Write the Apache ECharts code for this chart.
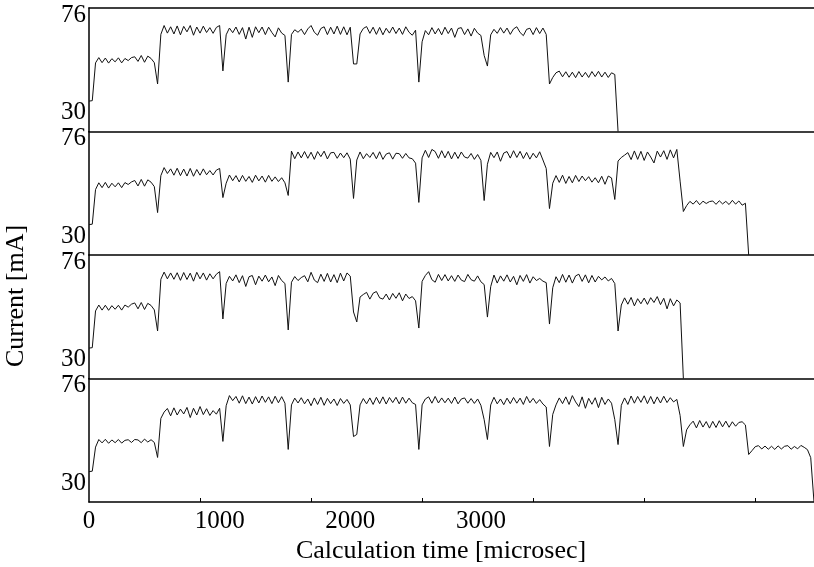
<!DOCTYPE html>
<html><head><meta charset="utf-8">
<script src="https://cdn.jsdelivr.net/npm/echarts@6/dist/echarts.min.js"></script>
<style>html,body{margin:0;padding:0;background:#fff}#c{width:814px;height:567px}</style>
</head><body><div id="c"></div><script>
// sampling period of the current traces, microseconds
const sampleInterval = 25;

const panel1Current = [35.4, 35.6, 53.5,
 56.0, 53.6, 55.8, 53.4, 55.5, 54.0, 55.9, 53.5, 55.6, 54.6, 56.0, 56.4, 54.2, 57.0, 53.8, 56.7, 55.6, 53.6,
 43.5,
 67.0, 71.2, 67.6, 70.6, 67.2, 71.0, 66.8, 70.8, 68.2, 71.2, 66.6, 70.5, 67.6, 70.9, 67.9, 70.2, 67.5, 70.3, 71.2,
 49.7,
 66.8, 70.0, 67.8, 70.5, 67.0, 70.2, 64.8, 70.4, 65.6, 70.6, 67.8, 70.5, 66.9, 70.4, 67.9, 65.8, 70.1, 67.6, 66.5,
 44.4,
 67.0, 69.2, 68.0, 69.5, 66.9, 69.6, 71.2, 68.0, 66.6, 69.8, 70.6, 66.9, 70.4, 67.2, 70.9, 67.0, 70.6, 66.8, 70.4,
 53.0, 53.0,
 67.2, 69.8, 70.7, 67.5, 70.4, 67.0, 70.3, 66.8, 69.9, 67.6, 70.5, 67.4, 70.0, 67.0, 70.6, 68.0, 66.6, 69.0,
 44.4,
 63.5, 68.8, 66.8, 70.2, 67.2, 69.8, 66.8, 70.4, 67.4, 70.0, 65.6, 69.8, 70.2, 66.9, 69.6, 66.2, 69.9, 67.6, 66.5,
 57.0, 52.0,
 66.8, 69.4, 67.5, 70.2, 67.6, 70.0, 67.0, 69.6, 70.6, 67.9, 66.4, 69.4, 69.9, 66.9, 70.2, 67.4, 70.0, 67.0,
 43.5,
 46.6, 48.8, 49.6, 46.9, 49.3, 46.7, 49.1, 46.5, 49.4, 46.8, 49.0, 46.6, 49.4, 47.0, 49.5, 46.8, 49.1, 46.6, 48.8,
 48.0, 21];

const panel2Current = [35.4, 35.6, 52.0,
 55.2, 52.9, 55.4, 52.7, 55.0, 53.3, 55.2, 52.9, 55.3, 54.4, 55.6, 56.3, 53.7, 56.8, 53.6, 56.6, 55.5, 53.4,
 41.1,
 58.6, 62.4, 59.6, 61.8, 58.8, 62.1, 58.6, 61.7, 58.4, 62.0, 58.3, 61.5, 58.8, 61.8, 59.0, 61.0, 58.9, 61.2, 62.0,
 48.2,
 55.0, 58.9, 56.2, 58.6, 55.6, 58.7, 55.9, 58.2, 55.4, 58.8, 56.1, 58.4, 55.5, 58.7, 55.9, 58.0, 55.8, 57.6, 55.2,
 49.2,
 70.2, 66.6, 69.8, 67.0, 70.0, 66.8, 69.7, 66.3, 70.0, 67.6, 70.2, 66.5, 69.4, 69.6, 66.8, 69.3, 67.1, 69.4, 66.4,
 47.8,
 66.0, 69.8, 66.6, 69.0, 67.2, 69.6, 66.6, 69.9, 66.3, 68.8, 69.4, 66.4, 69.2, 69.0, 66.8, 69.1, 67.0, 66.6, 64.5,
 45.9,
 67.0, 70.6, 67.2, 71.0, 70.0, 66.8, 70.4, 67.0, 70.1, 66.5, 69.7, 66.7, 69.8, 67.4, 66.9, 69.1, 66.3, 68.6, 65.8,
 46.8,
 64.0, 69.6, 67.1, 69.8, 65.4, 69.3, 70.0, 66.9, 70.4, 67.2, 70.1, 66.7, 69.6, 66.4, 69.2, 67.0, 69.9, 66.0, 62.0,
 43.0,
 55.0, 58.6, 55.4, 58.8, 54.9, 58.2, 55.2, 58.7, 55.8, 58.4, 56.2, 58.1, 55.5, 57.6, 55.2, 58.3, 54.5, 58.4, 57.5,
 47.3,
 65.5, 67.2, 68.3, 69.5, 66.2, 70.3, 66.3, 70.1, 65.8, 69.8, 67.4, 64.6, 70.2, 67.4, 70.4, 66.3, 70.8, 67.0, 71.0,
 56.0, 41.6,
 44.4, 46.4, 45.1, 46.8, 44.8, 46.5, 45.4, 46.3, 46.6, 45.0, 46.7, 45.2, 46.4, 44.9, 46.9, 45.1, 46.6, 44.6, 45.5,
 21];

const panel3Current = [35.4, 35.6, 53.0,
 55.8, 53.4, 55.7, 53.3, 55.5, 53.8, 55.7, 53.4, 55.8, 54.8, 56.2, 56.8, 54.0, 57.0, 53.7, 56.6, 55.6, 53.5,
 43.5,
 68.0, 71.4, 68.2, 71.0, 68.0, 71.1, 67.5, 71.2, 67.9, 70.9, 67.1, 71.3, 68.2, 71.0, 67.6, 70.6, 68.2, 70.4, 71.6,
 49.2,
 66.0, 69.4, 67.2, 70.1, 66.4, 69.7, 64.6, 69.2, 69.8, 65.4, 69.5, 67.1, 70.0, 66.8, 69.1, 65.0, 69.8, 67.4, 66.0,
 44.0,
 66.6, 69.3, 67.4, 68.8, 69.7, 66.8, 71.3, 67.6, 66.4, 70.4, 67.0, 70.8, 66.7, 70.2, 66.4, 70.9, 67.2, 71.0, 69.5,
 52.5, 47.8,
 59.6, 60.8, 61.8, 58.6, 61.4, 62.2, 59.2, 58.6, 61.0, 58.2, 61.3, 59.0, 61.6, 57.8, 61.0, 58.9, 59.8, 57.8,
 44.9,
 67.0, 69.8, 71.6, 67.8, 66.6, 70.3, 67.4, 70.2, 67.2, 69.7, 67.0, 70.0, 67.6, 66.9, 70.3, 67.8, 67.1, 69.6, 66.8,
 65.5, 50.1,
 64.5, 70.0, 66.2, 69.6, 67.1, 70.1, 66.7, 69.4, 65.4, 69.8, 67.0, 70.2, 66.2, 69.2, 67.4, 68.4, 67.1, 66.4,
 46.8,
 64.0, 69.2, 66.4, 70.3, 66.6, 70.0, 66.2, 69.6, 70.4, 67.0, 70.1, 66.3, 69.8, 66.7, 69.4, 67.7, 69.1, 67.2, 68.4,
 66.0, 43.5,
 55.8, 59.2, 56.2, 59.4, 55.4, 58.8, 56.4, 59.1, 56.1, 59.3, 57.0, 59.8, 56.0, 59.0, 54.0, 58.8, 55.4, 58.2,
 56.8, 21];

const panel4Current = [35.4, 35.6, 47.0,
 50.6, 49.0, 50.7, 48.8, 50.4, 49.1, 50.6, 48.9, 50.2, 50.5, 49.2, 50.6, 50.4, 49.1, 50.8, 49.4, 50.5, 49.2,
 42.1,
 60.6, 63.6, 65.3, 61.8, 65.6, 62.2, 65.0, 62.7, 65.8, 61.0, 65.4, 62.2, 66.2, 62.4, 65.2, 62.0, 64.3, 62.6, 65.4,
 49.7,
 66.6, 71.4, 69.0, 71.0, 67.8, 71.3, 67.6, 70.7, 67.4, 70.9, 67.9, 71.2, 68.2, 70.8, 67.6, 71.1, 68.0, 70.9, 67.8,
 45.9,
 67.0, 70.2, 67.9, 70.4, 67.5, 69.8, 66.6, 70.3, 67.2, 70.6, 66.8, 70.1, 67.6, 69.8, 66.7, 70.0, 67.7, 69.6, 67.0,
 52.0, 53.0,
 67.0, 70.0, 67.5, 70.3, 67.2, 70.6, 67.6, 70.8, 67.4, 70.5, 68.1, 70.6, 67.5, 70.7, 67.8, 70.2, 68.0, 67.2,
 45.9,
 67.0, 69.8, 70.8, 67.8, 71.0, 67.9, 70.3, 68.0, 70.2, 67.7, 70.7, 67.5, 69.8, 70.3, 67.8, 70.0, 67.7, 69.8, 66.8,
 60.0, 50.6,
 67.0, 70.6, 67.5, 69.8, 67.1, 70.2, 67.6, 70.5, 67.8, 70.2, 67.2, 71.0, 68.0, 70.1, 67.7, 69.5, 67.4, 66.0,
 47.3,
 62.5, 67.0, 70.3, 67.6, 70.8, 67.2, 71.4, 68.4, 66.2, 70.8, 65.4, 70.1, 67.3, 70.4, 65.7, 70.6, 67.2, 69.8, 67.8,
 60.0, 48.2,
 66.8, 70.3, 67.2, 71.2, 67.8, 71.0, 68.2, 71.3, 67.6, 71.0, 67.5, 70.8, 67.9, 71.1, 68.1, 70.4, 68.4, 69.6,
 62.0, 47.3,
 55.2, 57.6, 59.3, 56.1, 59.6, 56.5, 59.1, 56.0, 59.2, 56.3, 59.5, 56.6, 59.3, 56.4, 59.0, 56.9, 58.7, 59.0, 57.5,
 43.5,
 45.3, 47.2, 47.7, 46.1, 47.5, 46.0, 47.4, 45.9, 47.6, 46.1, 47.4, 47.7, 46.0, 47.3, 46.2, 47.8, 46.9, 45.8,
 42.0, 21];

const xTickLabels = [0, 1000, 2000, 3000];
const xTickMarks = [850, 1700, 2550, 3400, 4250, 5100];
const yTickLabels = [30, 76];
const xMin = 0, xMax = 5550;
const yMin = 21, yMax = 79.5;
const xTitle = 'Calculation time [microsec]';
const yTitle = 'Current [mA]';

const panels = [panel1Current, panel2Current, panel3Current, panel4Current];
const tops = [8, 131.5, 255, 378.5];
const FONT = '"Liberation Serif", "Times New Roman", serif';
const axisLineStyle = { color: '#000', width: 1.5 };
const plain = v => String(v);

const grids = panels.map((_, k) => ({
  left: 89, width: 725, top: tops[k], height: 123.5,
  containLabel: false, outerBoundsMode: 'none', show: false
}));

const xAxes = panels.map((_, k) => ({
  type: 'value', gridIndex: k, min: xMin, max: xMax, position: 'bottom',
  axisLine: { show: true, onZero: false, lineStyle: axisLineStyle },
  axisTick: { show: k === 3, inside: true, length: 4, customValues: xTickMarks, lineStyle: { color: '#000', width: 1 } },
  axisLabel: { show: k === 3, customValues: xTickLabels, formatter: plain, margin: 7, fontSize: 25, fontFamily: FONT, color: '#000' },
  splitLine: { show: false }
}));
xAxes.push({
  type: 'value', gridIndex: 0, min: xMin, max: xMax, position: 'top',
  axisLine: { show: true, onZero: false, lineStyle: axisLineStyle },
  axisTick: { show: false }, axisLabel: { show: false }, splitLine: { show: false }
});

const yAxes = panels.map((_, k) => ({
  type: 'value', gridIndex: k, min: yMin, max: yMax,
  axisLine: { show: true, onZero: false, lineStyle: axisLineStyle },
  axisTick: { show: false },
  axisLabel: { customValues: yTickLabels, formatter: plain, margin: 3, fontSize: 25, fontFamily: FONT, color: '#000' },
  splitLine: { show: false }
}));

const series = panels.map((vals, k) => ({
  type: 'line', xAxisIndex: k, yAxisIndex: k,
  data: vals.map((v, i) => [i * sampleInterval, v]),
  showSymbol: false, symbol: 'none', silent: true,
  lineStyle: { color: '#111', width: 1 },
  animation: false
}));

const chart = echarts.init(document.getElementById('c'), null, { renderer: 'canvas' });
chart.setOption({
  backgroundColor: '#fff',
  animation: false,
  grid: grids,
  xAxis: xAxes,
  yAxis: yAxes,
  series: series,
  graphic: [
    { type: 'text', x: 441, y: 551, style: { text: xTitle, font: '26px ' + FONT, fill: '#000', textAlign: 'center', textVerticalAlign: 'middle' } },
    { type: 'text', x: 16, y: 296, rotation: Math.PI / 2, style: { text: yTitle, font: '26px ' + FONT, fill: '#000', textAlign: 'center', textVerticalAlign: 'middle' } }
  ]
});
</script></body></html>
